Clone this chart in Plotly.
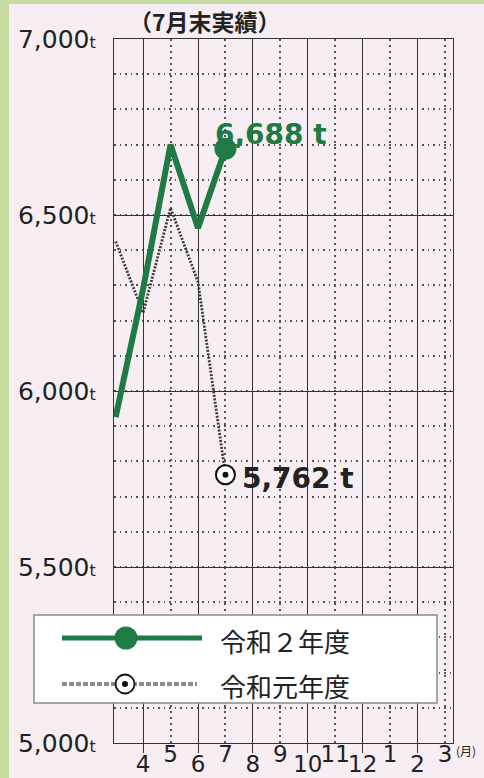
import plotly.graph_objects as go

# ---- data ----
month_labels = ["4", "5", "6", "7", "8", "9", "10", "11", "12", "1", "2", "3"]
# first point = end of previous fiscal year (March), then Apr..Jul
r2_values = [5926, 6290, 6700, 6463, 6688]   # 令和２年度
r1_values = [6425, 6222, 6520, 6310, 5762]   # 令和元年度
y_tick_vals = [5000, 5500, 6000, 6500, 7000]
series_names = ["令和２年度", "令和元年度"]
title_text = "（7月末実績）"

W, H = 484, 778
def px(x): return x / W
def py(y): return 1 - y / H

GREEN = "#1f7a45"
PINK = "#f6eef3"

x_pos = list(range(-1, len(r2_values) - 1))
idx = list(range(len(month_labels)))
even_idx = idx[0::2]
odd_idx = idx[1::2]

fig = go.Figure()

# previous year dotted line
fig.add_trace(go.Scatter(
    x=x_pos, y=r1_values, mode="lines",
    line=dict(color="#3a3a3a", width=2.8, dash="2px,1.5px"),
    showlegend=False, hoverinfo="skip"))
# current year green line
fig.add_trace(go.Scatter(
    x=x_pos, y=r2_values, mode="lines",
    line=dict(color=GREEN, width=6), showlegend=False, hoverinfo="skip"))
# end markers
fig.add_trace(go.Scatter(
    x=[x_pos[-1]], y=[r2_values[-1]], mode="markers",
    marker=dict(size=22, color=GREEN, line=dict(width=0)),
    showlegend=False, hoverinfo="skip"))
fig.add_trace(go.Scatter(
    x=[x_pos[-1]], y=[r1_values[-1]], mode="markers",
    marker=dict(size=19, color="white", line=dict(width=2, color="#111")),
    showlegend=False, hoverinfo="skip"))
fig.add_trace(go.Scatter(
    x=[x_pos[-1]], y=[r1_values[-1]], mode="markers",
    marker=dict(size=6, color="#111"),
    showlegend=False, hoverinfo="skip"))
# dummy trace for second (odd-label) x axis
fig.add_trace(go.Scatter(x=[None], y=[None], xaxis="x2", yaxis="y",
                         showlegend=False, hoverinfo="skip"))

tickfont = dict(family="DejaVu Sans", size=23, color="#222")

fig.update_layout(
    template="none",
    width=W, height=H, autosize=False,
    margin=dict(l=0, r=0, t=0, b=0, pad=0),
    paper_bgcolor=PINK, plot_bgcolor=PINK,
    showlegend=False,
    xaxis=dict(
        domain=[px(114), px(453)], range=[-1.06, 11.29], automargin=False,
        tickvals=even_idx, ticktext=[month_labels[i] for i in even_idx],
        ticks="outside", ticklen=9, tickwidth=1.4, tickcolor="#333",
        ticklabelstandoff=-9,
        showgrid=True, gridcolor="#333", gridwidth=1.3,
        showline=True, linecolor="#333", linewidth=1.4, mirror=True,
        zeroline=False, tickfont=tickfont,
        minor=dict(tickvals=odd_idx, showgrid=True, griddash="1.5px,4.5px",
                   gridcolor="#555", gridwidth=1.5, ticks=""),
    ),
    xaxis2=dict(
        overlaying="x", side="bottom", range=[-1.06, 11.29], automargin=False,
        tickvals=odd_idx, ticktext=[month_labels[i] for i in odd_idx],
        ticks="", showgrid=False, showline=False, zeroline=False,
        ticklabelstandoff=-5,
        tickfont=tickfont,
    ),
    yaxis=dict(
        domain=[py(743), py(39)], range=[5000, 7000], automargin=False,
        tickvals=y_tick_vals,
        ticktext=[f"{v:,}<span style='font-size:16px'>t</span>" for v in y_tick_vals],
        ticks="", showgrid=True, gridcolor="#333", gridwidth=1.3,
        showline=True, linecolor="#333", linewidth=1.4, mirror=True,
        zeroline=False, tickfont=dict(family="DejaVu Sans", size=25, color="#222"),
        ticklabelstandoff=12,
        minor=dict(dtick=100, showgrid=True, griddash="1.5px,4px",
                   gridcolor="#555", gridwidth=1.5, ticks=""),
    ),
)

shapes = [
    # green frame strips
    dict(type="rect", xref="paper", yref="paper", x0=0, x1=px(9), y0=0, y1=1,
         fillcolor="#c7dca3", line=dict(width=0), layer="below"),
    dict(type="rect", xref="paper", yref="paper", x0=0, x1=1, y0=py(4), y1=1,
         fillcolor="#c7dca3", line=dict(width=0), layer="below"),
    # legend box
    dict(type="rect", xref="paper", yref="paper", x0=px(34), x1=px(437),
         y0=py(703), y1=py(615), fillcolor="white",
         line=dict(color="#8a8a8a", width=1.5), layer="above"),
    dict(type="line", xref="paper", yref="paper", x0=px(62), x1=px(202),
         y0=py(638), y1=py(638), line=dict(color=GREEN, width=5), layer="above"),
    dict(type="circle", xref="paper", yref="paper", x0=px(114.5), x1=px(137.5),
         y0=py(649.5), y1=py(626.5), fillcolor=GREEN, line=dict(width=0), layer="above"),
    dict(type="line", xref="paper", yref="paper", x0=px(62), x1=px(197),
         y0=py(684), y1=py(684), line=dict(color="#8c8c8c", width=4, dash="5px,2px"),
         layer="above"),
    dict(type="circle", xref="paper", yref="paper", x0=px(115.5), x1=px(134.5),
         y0=py(693.5), y1=py(674.5), fillcolor="white",
         line=dict(color="#111", width=1.8), layer="above"),
    dict(type="circle", xref="paper", yref="paper", x0=px(122), x1=px(128),
         y0=py(687), y1=py(681), fillcolor="#111", line=dict(width=0), layer="above"),
]
fig.update_layout(shapes=shapes)

annotations = [
    dict(text=f"<b>{title_text}</b>", xref="paper", yref="paper",
         x=px(127), y=py(21), xanchor="left", yanchor="middle", showarrow=False,
         font=dict(family="Noto Sans CJK JP", size=23, color="#222")),
    dict(text=f"<b>{r2_values[-1]:,} t</b>", xref="x", yref="y",
         x=x_pos[-1], y=r2_values[-1], xanchor="left", yanchor="middle",
         xshift=-12, yshift=14, showarrow=False,
         font=dict(family="DejaVu Sans", size=28, color=GREEN)),
    dict(text=f"<b>{r1_values[-1]:,} t</b>", xref="x", yref="y",
         x=x_pos[-1], y=r1_values[-1], xanchor="left", yanchor="middle",
         xshift=15, yshift=-4, showarrow=False,
         font=dict(family="DejaVu Sans", size=28, color="#222")),
    dict(text="(月)", xref="x", yref="paper", x=idx[-1], y=py(750),
         xanchor="left", yanchor="middle", xshift=9, showarrow=False,
         font=dict(family="Noto Sans CJK JP", size=12, color="#222")),
    dict(text=series_names[0], xref="paper", yref="paper", x=px(218), y=py(640),
         xanchor="left", yanchor="middle", showarrow=False,
         font=dict(family="Noto Sans CJK JP", size=26, color="#222")),
    dict(text=series_names[1], xref="paper", yref="paper", x=px(218), y=py(685),
         xanchor="left", yanchor="middle", showarrow=False,
         font=dict(family="Noto Sans CJK JP", size=26, color="#222")),
]
fig.update_layout(annotations=annotations)

fig.write_html(
    "out.html",
    config={"displayModeBar": False},
    post_script="document.body.style.margin='0';document.body.style.overflow='hidden';",
)
